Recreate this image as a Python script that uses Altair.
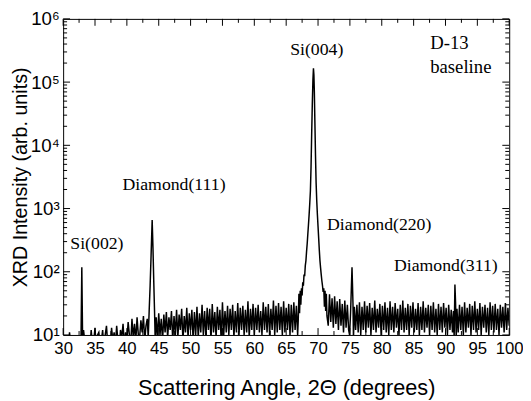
import altair as alt
import pandas as pd

# ---------------- data ----------------
STEP = 0.2  # spacing of the background-noise samples (degrees)

noise_a_start = 30.0
noise_a = [7, 9, 6, 8, 5, 11, 7, 6, 9, 8, 6, 10, 7, 8]
noise_b_start = 33.2
noise_b = [12, 8, 7, 9,
           9, 6, 12, 7, 8, 13, 6, 10, 11, 7,
           8, 12, 6, 10, 14, 7, 9, 6, 13, 8,
           11, 7, 14, 8, 6, 12, 9, 15, 7, 11,
           8, 16, 10, 7, 18, 9, 15, 8, 19, 10,
           9, 17, 11, 20, 8, 14, 18]
noise_c_start = 44.6
noise_c = [19, 9, 22, 10, 18, 8, 21,
           11, 23, 9, 19, 12, 24, 8, 20, 10, 25,
           9, 21, 12, 26, 8, 20, 11, 27, 9, 22,
           12, 25, 8, 23, 10, 28, 9, 22, 11, 30,
           10, 24, 9, 27, 12, 26, 8, 31, 11, 23,
           9, 28, 12, 25, 8, 33, 10, 24, 11, 29,
           10, 26, 12, 30, 9, 24, 11, 32, 10, 27,
           12, 29, 10, 25, 11, 34, 9, 26, 12, 31,
           10, 27, 12, 30, 11, 24, 10, 33, 12, 28,
           11, 31, 10, 26, 12, 35, 10, 29, 11, 32,
           12, 28, 10, 34, 11, 27, 12, 31, 10, 30,
           11, 33, 12, 29, 10]
noise_d_start = 71.6
noise_d = [14, 44, 16, 38, 13, 41, 15, 34, 12, 37, 14, 31, 11, 35, 13, 30, 12]
noise_e_start = 75.7
noise_e = [28, 12, 30, 11, 33, 10, 28, 12, 34, 11,
           29, 13, 32, 10, 27, 12, 35, 11, 26, 13,
           31, 10, 29, 12, 33, 11, 27, 10, 34, 12,
           28, 11, 32, 13, 26, 10, 30, 12, 35, 11,
           27, 12, 31, 10, 29, 13, 33, 11, 26, 12,
           32, 10, 28, 12, 34, 11, 27, 13, 30, 10,
           29, 12, 33, 11, 26, 10, 31, 12, 28, 11,
           32, 13, 27, 10, 30, 12, 25, 11]
noise_f_start = 91.8
noise_f = [26, 11, 30, 12, 28, 10, 33, 11, 27, 13,
           31, 10, 29, 12, 34, 11, 26, 12, 32, 10,
           28, 13, 30, 11, 27, 10, 33, 12, 29, 11,
           31, 12, 26, 10, 30, 13, 28, 11, 32, 12,
           27, 14]

si002_angle = [32.8, 32.93, 33.05]
si002_int = [8, 118, 9]
d111_angle = [43.35, 43.5, 43.65, 43.8, 43.97, 44.1, 44.22, 44.35, 44.45]
d111_int = [9, 24, 60, 180, 660, 230, 70, 22, 8]
si004_angle = [66.9, 67.0, 67.1, 67.2, 67.3, 67.4, 67.5, 67.6, 67.7, 67.8, 67.9,
               68.0, 68.1, 68.2, 68.3, 68.4, 68.5, 68.6, 68.7, 68.8, 68.9,
               69.0, 69.1, 69.2, 69.28, 69.35, 69.42, 69.5, 69.6, 69.7, 69.8,
               69.9, 70.0, 70.1, 70.2, 70.3, 70.4, 70.5, 70.6, 70.7, 70.8,
               70.9, 71.0, 71.1, 71.2, 71.3, 71.4]
si004_int = [18, 45, 22, 50, 30, 55, 42, 68, 60, 90, 85,
             125, 150, 210, 280, 400, 560, 800, 1200, 1900, 4500,
             15000, 45000, 110000, 165000, 130000, 70000, 25000, 7000, 2500, 1300,
             800, 520, 340, 220, 150, 115, 90, 72, 60, 48,
             55, 28, 50, 24, 45, 20]
d220_angle = [74.95, 75.1, 75.2, 75.33, 75.4, 75.48, 75.56]
d220_int = [10, 22, 45, 118, 65, 32, 9]
d311_angle = [91.25, 91.36, 91.48, 91.58, 91.68]
d311_int = [24, 9, 63, 33, 9]

x_ticks = [30, 35, 40, 45, 50, 55, 60, 65, 70, 75, 80, 85, 90, 95, 100]
x_minor = [32.5, 37.5, 42.5, 47.5, 52.5, 57.5, 62.5, 67.5, 72.5, 77.5, 82.5, 87.5, 92.5, 97.5]
y_decades = [10, 100, 1000, 10000, 100000, 1000000]
y_minor = [d * k for d in y_decades[:-1] for k in range(2, 10)]

ann_center_label = ["Si(002)", "Diamond(111)", "Si(004)", "Diamond(220)", "Diamond(311)"]
ann_center_angle = [35.3, 47.4, 69.8, 79.6, 90.05]
ann_center_int = [233, 1965, 267000, 451, 104]
ann_left_label = ["D-13", "baseline"]
ann_left_angle = [87.6, 87.6]
ann_left_int = [338000, 137700]

# ---------------- build tables ----------------
ang, inten = [], []
for start, vals in [(noise_a_start, noise_a), (noise_b_start, noise_b), (noise_c_start, noise_c),
                    (noise_d_start, noise_d), (noise_e_start, noise_e), (noise_f_start, noise_f)]:
    for i, v in enumerate(vals):
        ang.append(round(start + STEP * i, 3))
        inten.append(v)
for a_list, i_list in [(si002_angle, si002_int), (d111_angle, d111_int), (si004_angle, si004_int),
                       (d220_angle, d220_int), (d311_angle, d311_int)]:
    ang.extend(a_list)
    inten.extend(i_list)
df = pd.DataFrame({"angle": ang, "intensity": inten}).sort_values("angle").reset_index(drop=True)

W, H = 453, 321
x_scale = alt.Scale(domain=[30, 100], nice=False, zero=False)
y_scale = alt.Scale(type="log", domain=[10, 1000000], nice=False)

sup = "['⁰','¹','²','³','⁴','⁵','⁶'][round(log(datum.value)/LN10)]"
x_axis = alt.Axis(values=x_ticks, title="Scattering Angle, 2Θ (degrees)",
                  labelPadding=6, titlePadding=21, labelOverlap=False, labelFlush=False,
                  labelFontSize=17, titleFontSize=22)
y_axis = alt.Axis(values=y_decades, labelExpr="'10' + " + sup, labelFontSize=19,
                  labelFlush=False, labelOverlap=False, titleFontSize=20,
                  title="XRD Intensity (arb. units)", labelPadding=4, titlePadding=0)


def X(f):
    return alt.X(f, scale=x_scale, axis=x_axis)


def Y(f):
    return alt.Y(f, scale=y_scale, axis=y_axis)


line = alt.Chart(df).mark_line(color="black", strokeWidth=1.5, clip=True).encode(
    x=X("angle:Q"), y=Y("intensity:Q"))


def xticks(vals, length):
    d = pd.DataFrame({"angle": vals, "intensity": [1000000] * len(vals), "lo": [10] * len(vals)})
    return alt.Chart(d).mark_rule(color="black", strokeWidth=1,
                                  strokeDash=[length, H - 2 * length]).encode(
        x=X("angle:Q"), y=Y("intensity:Q"), y2="lo:Q")


def yticks(vals, length):
    d = pd.DataFrame({"intensity": vals, "angle": [30] * len(vals), "hi": [100] * len(vals)})
    return alt.Chart(d).mark_rule(color="black", strokeWidth=1,
                                  strokeDash=[length, W - 2 * length]).encode(
        x=X("angle:Q"), x2="hi:Q", y=Y("intensity:Q"))


ann_c = alt.Chart(pd.DataFrame({"label": ann_center_label, "angle": ann_center_angle,
                                "intensity": ann_center_int})).mark_text(
    font="Liberation Serif", fontSize=18, align="center", baseline="alphabetic", color="black"
).encode(x=X("angle:Q"), y=Y("intensity:Q"), text="label:N")

ann_l = alt.Chart(pd.DataFrame({"label": ann_left_label, "angle": ann_left_angle,
                                "intensity": ann_left_int})).mark_text(
    font="Liberation Serif", fontSize=19, align="left", baseline="alphabetic", color="black"
).encode(x=X("angle:Q"), y=Y("intensity:Q"), text="label:N")

chart = alt.layer(
    line, xticks(x_ticks, 7), xticks(x_minor, 4), yticks(y_decades, 7), yticks(y_minor, 4),
    ann_c, ann_l
).properties(
    width=W, height=H,
    autosize=alt.AutoSizeParams(type="none"),
    padding={"left": 56, "top": 8, "right": 14, "bottom": 64},
    background="white",
).configure_view(
    stroke="black", strokeWidth=1
).configure_axis(
    domain=False, ticks=False, grid=False,
    labelFont="Liberation Sans", labelColor="black",
    titleFont="Liberation Sans", titleFontWeight="normal", titleColor="black",
)

chart.save("out.html", embed_options={"renderer": "svg", "actions": False})
